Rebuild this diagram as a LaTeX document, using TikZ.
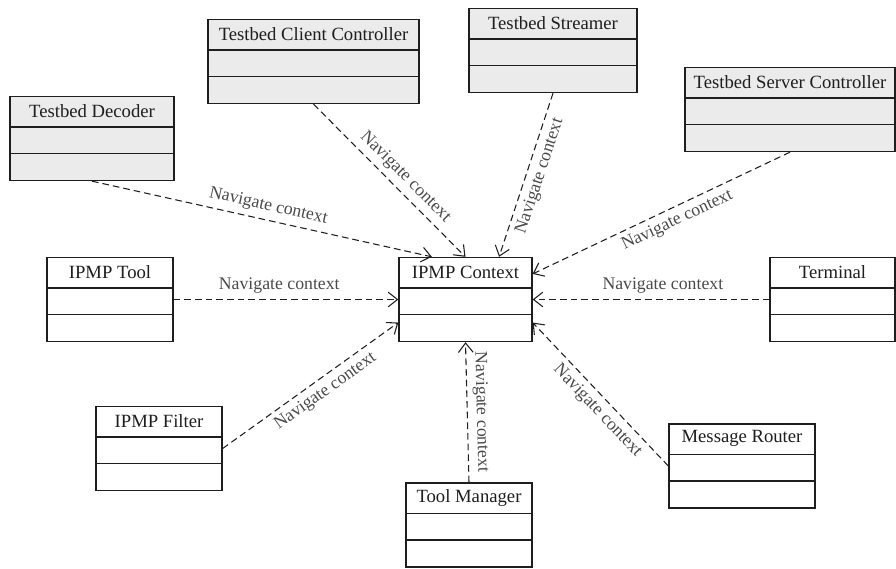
\documentclass[tikz,border=0pt]{standalone}
\usepackage{fontspec}
\setmainfont{Liberation Serif}
\usetikzlibrary{arrows.meta,positioning,calc}
\definecolor{ink}{HTML}{1E1E1E}
\definecolor{labelgray}{HTML}{4A4A4A}
\definecolor{shade}{HTML}{EBEBEB}
\tikzset{
  classbox/.style={draw=ink, line width=1pt, minimum height=63pt, inner sep=0pt},
  classtitle/.style={font=\fontsize{14}{16}\selectfont, text=ink, inner sep=0pt},
  classline/.style={draw=ink, line width=1pt},
  nav/.style={draw=ink, line width=0.8pt, dash pattern=on 5pt off 3pt,
              -{Straight Barb[length=7pt,width=11pt]}},
  navlabel/.style={font=\fontsize{13.3}{15}\selectfont, text=labelgray, sloped, inner sep=4pt}
}
% [fill]{name}{centre}{width in px}{title}
\newcommand{\umlclass}[5][white]{%
  \node[classbox, fill=#1, minimum width=#4*0.75pt] (#2) at (#3) {};
  \node[classtitle] (#2-title) at ($(#2.north)+(0,15.5)$) {#5};
  \draw[classline] ($(#2.north west)+(0,31)$) -- ($(#2.north east)+(0,31)$);
  \draw[classline] ($(#2.north west)+(0,57.5)$) -- ($(#2.north east)+(0,57.5)$);
}

\begin{document}
\begin{tikzpicture}[x=0.75pt,y=-0.75pt]
  \useasboundingbox (0,0) rectangle (896,568);

  % Testbed classes (shaded)
  \umlclass[shade]{dec}{92,138.5}{164}{Testbed Decoder}
  \umlclass[shade]{cli}{313.5,61.5}{211}{Testbed Client Controller}
  \umlclass[shade]{str}{553,50.5}{168}{Testbed Streamer}
  \umlclass[shade]{srv}{790,109.5}{210}{Testbed Server Controller}

  % IPMP classes
  \umlclass{ctx}{465.5,299.5}{133}{IPMP Context}
  \umlclass{tool}{110,299.5}{126}{IPMP Tool}
  \umlclass{term}{832.5,299.5}{125}{Terminal}
  \umlclass{filt}{159,448.5}{126}{IPMP Filter}
  \umlclass{mgr}{469,525}{126}{Tool Manager}
  \umlclass{rtr}{742,466}{146}{Message Router}

  % Navigate context links
  \draw[nav] (dec.south) -- node[navlabel, pos=.51, above] {Navigate context}
    ($(ctx.north west)!.25!(ctx.north east)$);
  \draw[nav] (cli.south) -- node[navlabel, pos=.54, above] {Navigate context} (ctx.north);
  \draw[nav] (str.south) -- node[navlabel, pos=.48, below] {Navigate context}
    ($(ctx.north west)!.75!(ctx.north east)$);
  \draw[nav] (srv.south) -- node[navlabel, pos=.46, below] {Navigate context}
    ($(ctx.north east)!.2!(ctx.south east)$);
  \draw[nav] (term.west) -- node[navlabel, pos=.45, above] {Navigate context} (ctx.east);
  \draw[nav] (tool.east) -- node[navlabel, pos=.47, above] {Navigate context} (ctx.west);
  \draw[nav] (filt.east) -- node[navlabel, pos=.54, below] {Navigate context}
    ($(ctx.north west)!.77!(ctx.south west)$);
  \draw[nav] (rtr.west) -- node[navlabel, pos=.45, below] {Navigate context}
    ($(ctx.north east)!.77!(ctx.south east)$);
  \draw[nav] (mgr.north) -- node[navlabel, pos=.5, above] {Navigate context} (ctx.south);
\end{tikzpicture}
\end{document}
